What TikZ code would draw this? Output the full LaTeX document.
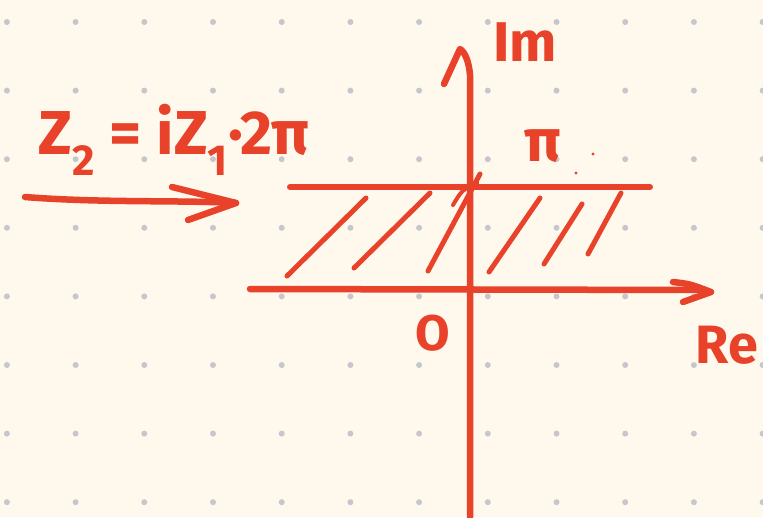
\documentclass[tikz,border=0pt]{standalone}
\usepackage{fontspec}
\setmainfont{Fira Sans}
\usepackage{xcolor}
\usepackage{tikz}
\usetikzlibrary{arrows.meta, calc}
\definecolor{paper}{RGB}{254,249,236}
\definecolor{ink}{RGB}{232,67,42}
\definecolor{dotgray}{RGB}{198,199,204}

\begin{document}
\begin{tikzpicture}[
  x=1pt, y=-1pt,
  pen/.style={draw=ink, line width=6.5pt, line cap=round, line join=round},
  hatch/.style={draw=ink, line width=5pt, line cap=round},
  hand/.style={text=ink, inner sep=0pt, font=\fontsize{#1}{#1}\selectfont\bfseries},
  hand/.default=38
]
  % Paper and dot grid
  \useasboundingbox[fill=paper] (0,0) rectangle (763,517);
  \foreach \i in {0,...,11}
    \foreach \j in {0,...,7}
      \fill[dotgray] (6.9+68.7*\i, 22+68.6*\j) circle (3pt);

  % Axes
  \coordinate (origin) at (470,289);
  \coordinate (imtop) at (460,49);
  \coordinate (retip) at (711,292);
  \draw[pen] (470,517) -- (470,75) .. controls (469,62) and (465,52) .. (imtop) -- (444,84);
  \draw[pen] (250,289) -- (703,290);
  \draw[pen] (673,282) .. controls (690,284) .. (retip) -- (683,302);

  % Upper bound of the strip
  \draw[pen, line width=6pt] (290,187) -- (650,187);

  % Hatching
  \draw[hatch] (287,276) -- (366,198);
  \draw[hatch] (354,268) -- (430,193);
  \draw[hatch] (428,271) -- (480,174);
  \draw[hatch, line width=4pt] (453,205) .. controls (462,190) .. (477,183);
  \draw[hatch] (489,272) -- (540,198);
  \draw[hatch] (544,264) -- (582,204);
  \draw[hatch] (588,254) -- (621,193);

  % Labels
  \node[hand=56] (imlbl) at (525,42) {Im};
  \node[hand=60] (pilbl) at (543,146) {π};
  \node[hand=50] (olbl) at (433,333) {O};
  \node[hand=54] (relbl) at (727,345) {Re};
  \node[hand=62] (maplbl) at (174,140) {Z\textsubscript{2} = iZ\textsubscript{1}·2π};
  \fill[ink] (576,173) circle (1.6pt);
  \fill[ink] (593,154) circle (1.6pt);

  % Mapping arrow
  \coordinate (mapstart) at (25,197);
  \coordinate (mapend) at (236,203);
  \draw[pen] (mapstart) .. controls (100,203) and (180,200) .. (mapend);
  \draw[pen] (172,187) -- (mapend) -- (188,220);
\end{tikzpicture}
\end{document}
